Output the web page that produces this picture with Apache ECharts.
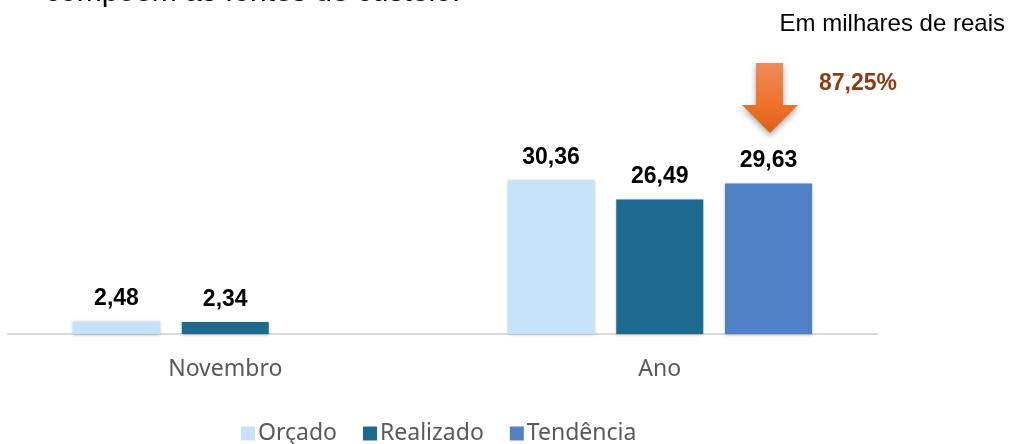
<!DOCTYPE html>
<html>
<head>
<meta charset="utf-8">
<script src="https://cdn.jsdelivr.net/npm/echarts@6/dist/echarts.min.js"></script>
<style>
  html, body { margin: 0; padding: 0; background: #fff; }
  #chart { width: 1010px; height: 444px; }
</style>
</head>
<body>
<div id="chart"></div>
<script>
var categories = ['Novembro', 'Ano'];
var orcado = [2.48, 30.36];
var realizado = [2.34, 26.49];
var tendencia = [null, 29.63];
var seriesNames = ['Orçado', 'Realizado', 'Tendência'];
var colors = ['#C6E2F8', '#1D6A8E', '#4F81C4'];
var percentText = '87,25%';

var myChart = echarts.init(document.getElementById('chart'));

function fmt(p) {
    return p.value == null ? '' : p.value.toFixed(2).replace('.', ',');
}

function barSeries(name, data, color) {
    return {
        name: name,
        type: 'bar',
        data: data,
        barWidth: 87,
        barGap: '25%',
        itemStyle: {
            color: color,
            shadowColor: 'rgba(0,0,0,0.25)',
            shadowBlur: 3,
            shadowOffsetY: 1
        },
        label: {
            show: true,
            position: 'top',
            distance: 11,
            formatter: fmt,
            color: '#000',
            fontWeight: 'bold',
            fontSize: 23,
            fontFamily: 'Liberation Sans'
        }
    };
}

option = {
    backgroundColor: '#fff',
    animation: false,
    grid: { left: 8, right: 133, top: 80, bottom: 110 },
    xAxis: {
        type: 'category',
        data: categories,
        axisLine: { lineStyle: { color: '#d9d9d9', width: 2 } },
        axisTick: { show: false },
        axisLabel: {
            color: '#595959',
            fontSize: 23,
            margin: 24,
            fontFamily: 'Noto Sans'
        }
    },
    yAxis: {
        type: 'value',
        min: 0,
        max: 50,
        show: false
    },
    legend: {
        bottom: -6,
        left: 236,
        itemWidth: 14,
        itemHeight: 14,
        itemGap: 26,
        icon: 'rect',
        textStyle: { color: '#595959', fontSize: 23, fontFamily: 'Noto Sans', padding: [0, 0, 0, -2] },
        data: seriesNames
    },
    graphic: [
        {
            type: 'text',
            left: 45,
            top: -22,
            style: { text: 'compõem as fontes de custeio.', fill: '#000', fontSize: 30, fontFamily: 'Liberation Sans' }
        },
        {
            type: 'text',
            right: 5,
            top: 12,
            style: { text: 'Em milhares de reais', fill: '#000', fontSize: 24, fontFamily: 'Liberation Sans', letterSpacing: -1.2 }
        },
        {
            type: 'text',
            left: 819,
            top: 72,
            style: { text: percentText, fill: '#8E3A12', fontSize: 23, fontWeight: 'bold', fontFamily: 'Liberation Sans' }
        },
        {
            type: 'polygon',
            shape: {
                points: [[756, 63], [783, 63], [783, 105], [798, 105], [770, 133], [742, 105], [756, 105]]
            },
            style: {
                fill: new echarts.graphic.LinearGradient(0, 0, 0, 1, [
                    { offset: 0, color: '#EE8A5C' },
                    { offset: 0.6, color: '#EE7227' },
                    { offset: 1, color: '#DC5E18' }
                ]),
                shadowColor: 'rgba(0,0,0,0.35)',
                shadowBlur: 6,
                shadowOffsetY: 3
            }
        }
    ],
    series: [
        barSeries(seriesNames[0], orcado, colors[0]),
        barSeries(seriesNames[1], realizado, colors[1]),
        barSeries(seriesNames[2], tendencia, colors[2])
    ]
};

myChart.setOption(option);
</script>
</body>
</html>
